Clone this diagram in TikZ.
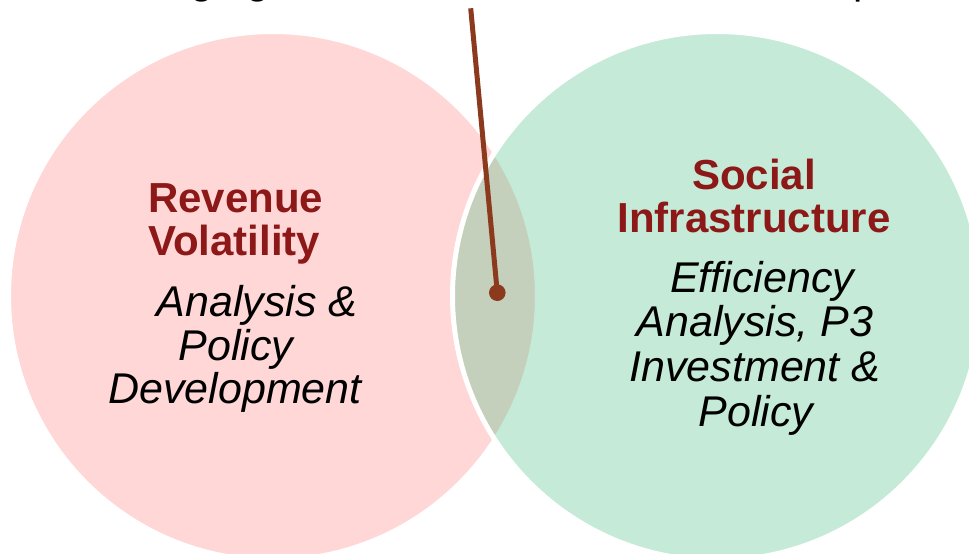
\documentclass[tikz,border=0pt]{standalone}
\usepackage{fontspec}
\setmainfont{Liberation Sans}
\definecolor{pinkfill}{RGB}{255,215,215}
\definecolor{greenfill}{RGB}{65,192,128}
\definecolor{titlered}{RGB}{140,24,24}
\definecolor{leadbrown}{RGB}{139,58,30}
\begin{document}
\begin{tikzpicture}[x=1pt,y=-1pt,
  title/.style={font=\fontsize{42}{44}\selectfont\bfseries, text=titlered, inner sep=0pt},
  body/.style={font=\fontsize{43}{44}\selectfont\itshape, text=black, inner sep=0pt},
  headline/.style={font=\fontsize{41.7}{44}\selectfont, text=black, inner sep=0pt},
  ring/.style={draw=white, line width=5pt},
  leader/.style={draw=leadbrown, line width=5pt}]
\useasboundingbox (0,0) rectangle (969,554);
\fill[white] (0,0) rectangle (969,554);

% heading line above the diagram, mostly outside the frame
\node[headline, anchor=base west] (head) at (86.4,-6.5) {Managing the Interaction of 2 Areas of Expertise};

% two overlapping circles
\filldraw[fill=pinkfill, ring] (273,296) circle[radius=264.5pt];
\fill[greenfill, fill opacity=0.3] (717,296) circle[radius=264.5pt];
\draw[ring] (717,296) circle[radius=264.5pt];

% pointer into the overlap
\coordinate (leadtop) at (470.7,8.3);
\coordinate (leaddot) at (497.3,292.7);
\draw[leader] (leadtop) -- (leaddot);
\fill[leadbrown] (leaddot) circle[radius=8.3pt];

% left circle text
\node[title, anchor=base west] (rev) at (148,212.3) {Revenue};
\node[title, anchor=base west] (vol) at (148,255.7) {Volatility};
\node[body, anchor=base] (lana) at (257,316.7) {Analysis \&};
\node[body, anchor=base] (lpol) at (236,360) {Policy};
\node[body, anchor=base] (ldev) at (235,403.3) {Development};

% right circle text
\node[title, anchor=base] (soc) at (754,189.3) {Social};
\node[title, anchor=base] (inf) at (754,232.7) {Infrastructure};
\node[body, anchor=base] (reff) at (762,292.7) {Efficiency};
\node[body, anchor=base] (rana) at (755,336.7) {Analysis, P3};
\node[body, anchor=base] (rinv) at (755,381.7) {Investment \&};
\node[body, anchor=base] (rpol) at (756,426.7) {Policy};
\end{tikzpicture}
\end{document}
